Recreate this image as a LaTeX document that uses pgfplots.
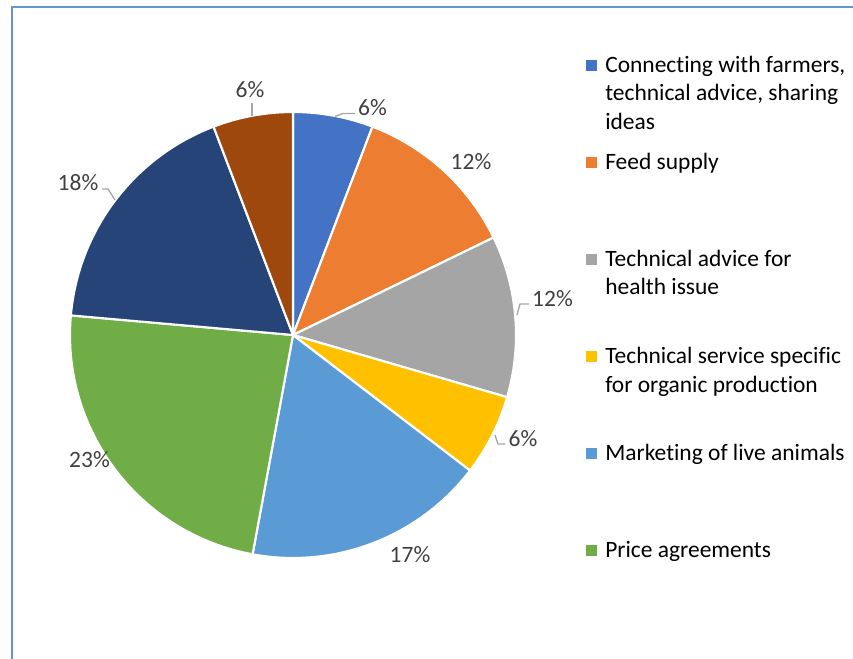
\documentclass[border=0pt]{standalone}
\usepackage{fontspec}
\setmainfont{Carlito}[Ligatures=NoCommon]
\usepackage{pgfplots}
\pgfplotsset{compat=1.18}
\definecolor{cBlue}{HTML}{4472C4}
\definecolor{cOrange}{HTML}{ED7D31}
\definecolor{cGray}{HTML}{A5A5A5}
\definecolor{cYellow}{HTML}{FFC000}
\definecolor{cLBlue}{HTML}{5B9BD5}
\definecolor{cGreen}{HTML}{70AD47}
\definecolor{cDBlue}{HTML}{264478}
\definecolor{cBrown}{HTML}{9E480E}
\definecolor{cFrame}{RGB}{100,149,213}
\definecolor{cLab}{HTML}{404040}
\definecolor{cLead}{HTML}{A6A6A6}

% running total of the pie (percent)
\gdef\cum{0}
\newcommand\slice[2]{%
  \pgfmathsetmacro\slA{90-3.6*\cum}%
  \pgfmathsetmacro\slB{90-3.6*(\cum+#1)}%
  \pgfmathsetmacro\slX{293+223*cos(\slA)}%
  \pgfmathsetmacro\slY{324+223*sin(\slA)}%
  \edef\sltmp{\noexpand\fill[#2, draw=white, line width=1.6pt, line join=round]
    (axis cs:293,324) -- (axis cs:\slX,\slY)
    arc[start angle=\slA, end angle=\slB, radius=167.25pt] -- cycle;}%
  \sltmp
  \pgfmathsetmacro\slN{\cum+#1}%
  \xdef\cum{\slN}%
}

\begin{document}
\begin{tikzpicture}[every node/.style={font=\fontsize{17.6}{21.4}\selectfont, inner sep=0pt}]
\begin{axis}[
  x=0.75pt, y=0.75pt,
  xmin=0, xmax=853, ymin=0, ymax=659,
  hide axis, clip=false,
  at={(0,0)}, anchor=south west,
]
% frame
\draw[cFrame, line width=1.3pt] (axis cs:12,0) -- (axis cs:12,652) -- (axis cs:853,652);

% pie slices (value in percent, colour)
\slice{5.8}{cBlue}
\slice{12.0}{cOrange}
\slice{11.7}{cGray}
\slice{5.9}{cYellow}
\slice{17.5}{cLBlue}
\slice{23.5}{cGreen}
\slice{17.8}{cDBlue}
\slice{5.8}{cBrown}

% leader lines
\draw[cLead, line width=1pt] (axis cs:335,542.5) -- (axis cs:343,545.5) -- (axis cs:355,545.5);
\draw[cLead, line width=1pt] (axis cs:517,344) -- (axis cs:520,355) -- (axis cs:529,355);
\draw[cLead, line width=1pt] (axis cs:495,224) -- (axis cs:498,215) -- (axis cs:505,215);
\draw[cLead, line width=1pt] (axis cs:102,470) -- (axis cs:108,470) -- (axis cs:115,459);
\draw[cLead, line width=1pt] (axis cs:252,556) -- (axis cs:252,543);

% data labels
\node[text=cLab] at (axis cs:372.5,551) {6\%};
\node[text=cLab] at (axis cs:471,497.5) {12\%};
\node[text=cLab] at (axis cs:552.5,360) {12\%};
\node[text=cLab] at (axis cs:523,220) {6\%};
\node[text=cLab] at (axis cs:410,104) {17\%};
\node[text=cLab] at (axis cs:89.5,199) {23\%};
\node[text=cLab] at (axis cs:78,476) {18\%};
\node[text=cLab] at (axis cs:250,569) {6\%};

% legend
\fill[cBlue]   (axis cs:586,588) rectangle ++(7.9pt,7.9pt);
\fill[cOrange] (axis cs:586,491) rectangle ++(7.9pt,7.9pt);
\fill[cGray]   (axis cs:586,394) rectangle ++(7.9pt,7.9pt);
\fill[cYellow] (axis cs:586,297) rectangle ++(7.9pt,7.9pt);
\fill[cLBlue]  (axis cs:586,200) rectangle ++(7.9pt,7.9pt);
\fill[cGreen]  (axis cs:586,103) rectangle ++(7.9pt,7.9pt);

\node[anchor=base west] at (axis cs:605,586.7) {Connecting with farmers,};
\node[anchor=base west] at (axis cs:605,558.2) {technical advice, sharing};
\node[anchor=base west] at (axis cs:605,529.7) {ideas};
\node[anchor=base west] at (axis cs:605,489.6) {Feed supply};
\node[anchor=base west] at (axis cs:605,392.5) {Technical advice for};
\node[anchor=base west] at (axis cs:605,364.0) {health issue};
\node[anchor=base west] at (axis cs:605,295.4) {Technical service specific};
\node[anchor=base west] at (axis cs:605,266.9) {for organic production};
\node[anchor=base west] at (axis cs:605,198.3) {Marketing of live animals};
\node[anchor=base west] at (axis cs:605,101.2) {Price agreements};
\end{axis}
\pgfresetboundingbox
\path[use as bounding box] (0,0) rectangle (639.75pt,494.25pt);
\end{tikzpicture}
\end{document}
